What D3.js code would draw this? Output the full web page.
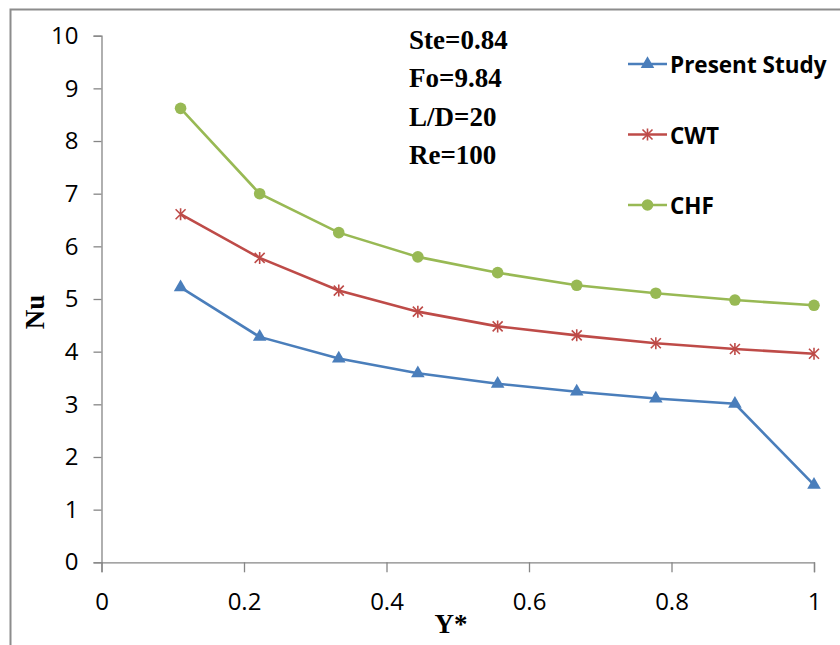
<!DOCTYPE html>
<html>
<head>
<meta charset="UTF-8"/>
<title>Nu vs Y*</title>
<script src="https://cdn.jsdelivr.net/npm/d3@7"></script>
<style>
body { margin: 0; background: #fff; }
svg { display: block; }
.tick text { font-family: 'Open Sans', sans-serif; font-size: 24px; fill: #000; }
.axis path, .axis line { stroke: #868686; stroke-width: 1.3; }
.note { font-family: 'Liberation Serif', serif; font-weight: bold; font-size: 27px; }
.legend text { font-family: 'Open Sans', sans-serif; font-weight: bold; font-size: 22.5px; }
.title { font-family: 'Liberation Serif', serif; font-weight: bold; font-size: 27px; }
</style>
</head>
<body>
<svg id="chart" width="840" height="645"></svg>
<script>
const yStar = [0.111, 0.222, 0.333, 0.444, 0.556, 0.667, 0.778, 0.889, 1.0];
const present = [5.22, 4.28, 3.87, 3.59, 3.39, 3.24, 3.11, 3.01, 1.47];
const cwt = [6.61, 5.78, 5.16, 4.76, 4.48, 4.31, 4.16, 4.05, 3.96];
const chf = [8.62, 7.00, 6.26, 5.80, 5.50, 5.26, 5.11, 4.98, 4.88];
const xTicks = [0, 0.2, 0.4, 0.6, 0.8, 1];
const yTicks = [0, 1, 2, 3, 4, 5, 6, 7, 8, 9, 10];
const notes = ['Ste=0.84', 'Fo=9.84', 'L/D=20', 'Re=100'];

const series = [
  { name: 'Present Study', values: present, color: '#4A7EBB', symbol: 'tri' },
  { name: 'CWT', values: cwt, color: '#BE4B48', symbol: 'star' },
  { name: 'CHF', values: chf, color: '#98B954', symbol: 'circle' }
];

const svg = d3.select('#chart');

// outer frame (only top and left edges show)
svg.append('path')
  .attr('d', 'M10.5,645 V9.5 H840')
  .attr('fill', 'none')
  .attr('stroke', '#8c8c8c')
  .attr('stroke-width', 2);

const x = d3.scaleLinear().domain([0, 1]).range([101.5, 814]);
const y = d3.scaleLinear().domain([0, 10]).range([562.3, 35.7]);

svg.append('g')
  .attr('class', 'axis')
  .attr('transform', 'translate(0,562.3)')
  .call(d3.axisBottom(x).tickValues(xTicks).tickSize(10).tickPadding(21)
    .tickFormat(d => d === 0 || d === 1 ? d : d3.format('.1f')(d)));

svg.append('g')
  .attr('class', 'axis')
  .attr('transform', 'translate(101.5,0)')
  .call(d3.axisLeft(y).tickValues(yTicks).tickSize(8).tickPadding(15));

const line = d3.line().x((d, i) => x(yStar[i])).y(d => y(d));

function drawSymbol(g, type, color) {
  if (type === 'tri') {
    g.append('path').attr('d', d3.symbol(d3.symbolTriangle, 80)()).attr('fill', color);
  } else if (type === 'circle') {
    g.append('circle').attr('r', 5.8).attr('fill', color);
  } else {
    g.append('path').attr('d', 'M-5,-5L5,5M-5,5L5,-5M0,-6V6')
      .attr('stroke', color).attr('stroke-width', 1.6).attr('fill', 'none');
  }
}

series.forEach(s => {
  svg.append('path')
    .datum(s.values)
    .attr('fill', 'none')
    .attr('stroke', s.color)
    .attr('stroke-width', 2.6)
    .attr('d', line);
  s.values.forEach((v, i) => {
    const g = svg.append('g').attr('transform', `translate(${x(yStar[i])},${y(v)})`);
    drawSymbol(g, s.symbol, s.color);
  });
});

// legend
const legend = svg.append('g').attr('class', 'legend');
series.forEach((s, i) => {
  const ly = 64 + i * 70.5;
  const g = legend.append('g').attr('transform', `translate(628,${ly})`);
  g.append('line').attr('x1', 0).attr('x2', 39).attr('stroke', s.color).attr('stroke-width', 2.6);
  const m = g.append('g').attr('transform', 'translate(19.5,0)');
  drawSymbol(m, s.symbol, s.color);
  g.append('text').attr('x', 42).attr('y', 9).text(s.name);
});

// notes
svg.selectAll('.note')
  .data(notes)
  .enter()
  .append('text')
  .attr('class', 'note')
  .attr('x', 409)
  .attr('y', (d, i) => 49 + i * 38.3)
  .text(d => d);

svg.append('text')
  .attr('class', 'title')
  .attr('x', 451)
  .attr('y', 633)
  .attr('text-anchor', 'middle')
  .text('Y*');

svg.append('text')
  .attr('class', 'title')
  .attr('transform', 'translate(44,312) rotate(-90)')
  .attr('text-anchor', 'middle')
  .text('Nu');
</script>
</body>
</html>
